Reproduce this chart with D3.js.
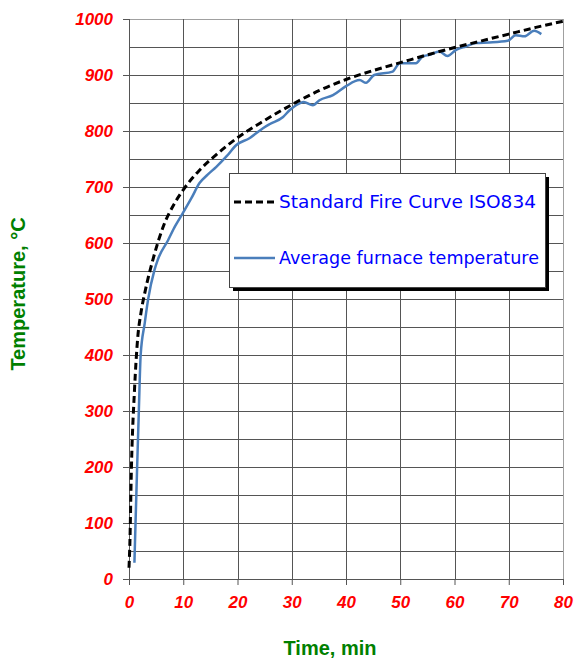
<!DOCTYPE html>
<html>
<head>
<meta charset="utf-8">
<script src="https://cdn.jsdelivr.net/npm/d3@7"></script>
<style>
  body { margin: 0; background: #fff; }
  svg { display: block; }
</style>
</head>
<body>
<div id="chart"></div>
<script>
// standard fire curve ISO834 (as drawn in the picture)
const isoTime = [0, 0.15, 0.45, 1, 1.6, 2.2, 3, 4.4, 6.3, 8.4, 10, 13, 16, 20, 25, 30, 35, 40, 45, 50, 55, 60, 65, 70, 75, 80];
const isoTemp = [20, 60, 200, 335, 430, 475, 515, 570, 629, 671, 695, 730, 757, 788, 819, 847, 872, 892, 908, 922, 936, 949, 961, 973, 985, 996];

// average furnace temperature
const furnTime = [1.0, 1.2, 1.5, 1.8, 2.15, 2.9, 3.5, 4.7, 5.3, 7.2, 8.5, 9.9, 11.5, 13, 14.5, 16.1, 18, 19.8, 22.2, 24.7, 25.9, 28.4, 29.6, 30.8, 32.2, 33.9, 35.1, 37.6, 40, 42.5, 43.7, 45.2, 48.6, 49.9, 52.9, 54.1, 55.4, 57.2, 58.7, 60.3, 62.1, 64, 66.4, 69.8, 71.3, 72.9, 74.7, 76];
const furnTemp = [29, 99, 200, 296, 400, 457, 498, 552, 570, 605, 630, 653, 680, 707, 722, 736, 755, 775, 787, 805, 812, 825, 837, 846, 852, 846, 855, 864, 880, 891, 886, 900, 906, 921, 921, 933, 936, 942, 934, 945, 951, 957, 958, 961, 971, 969, 979, 973];

const xTicks = [0, 10, 20, 30, 40, 50, 60, 70, 80];
const yTicks = [0, 100, 200, 300, 400, 500, 600, 700, 800, 900, 1000];
const yGrid = d3.range(0, 1001, 50);

const legendLabels = ['Standard Fire Curve ISO834', 'Average furnace temperature'];

const W = 575, H = 662;
const margin = { left: 129, top: 19, right: 12, bottom: 83 };
const width = W - margin.left - margin.right;
const height = H - margin.top - margin.bottom;

const svg = d3.select('#chart').append('svg')
    .attr('width', W)
    .attr('height', H);

const g = svg.append('g')
    .attr('transform', 'translate(' + margin.left + ',' + margin.top + ')');

const x = d3.scaleLinear().domain([0, 80]).range([0, width]);
const y = d3.scaleLinear().domain([0, 1000]).range([height, 0]);

// grid
g.append('g').selectAll('line.hg')
    .data(yGrid)
  .enter().append('line')
    .attr('class', 'hg')
    .attr('x1', 0).attr('x2', width)
    .attr('y1', d => Math.round(y(d)) + 0.5).attr('y2', d => Math.round(y(d)) + 0.5)
    .attr('stroke', d => d === 1000 ? '#a0a0a0' : '#555')
    .attr('stroke-width', 1);

g.append('g').selectAll('line.vg')
    .data(xTicks)
  .enter().append('line')
    .attr('class', 'vg')
    .attr('y1', 0).attr('y2', height)
    .attr('x1', d => Math.round(x(d)) + 0.5).attr('x2', d => Math.round(x(d)) + 0.5)
    .attr('stroke', d => d === 80 ? '#a0a0a0' : '#555')
    .attr('stroke-width', 1);

// axes
const xAxis = g.append('g')
    .attr('transform', 'translate(0,' + height + ')')
    .call(d3.axisBottom(x).tickValues(xTicks).tickSize(6).tickPadding(6).tickSizeOuter(0));

const yAxis = g.append('g')
    .call(d3.axisLeft(y).tickValues(yTicks).tickFormat(d3.format('d')).tickSize(6).tickPadding(10).tickSizeOuter(0));

[xAxis, yAxis].forEach(a => {
  a.select('.domain').attr('stroke', '#555');
  a.selectAll('.tick line').attr('stroke', '#555');
  a.selectAll('.tick text')
      .attr('fill', '#ff0000')
      .style('font-family', '"Liberation Sans", Arial, sans-serif')
      .style('font-size', '17px')
      .style('font-weight', 'bold')
      .style('font-style', 'italic');
});
xAxis.selectAll('.tick text').attr('dy', '1em');

// lines
const line = d3.line()
    .x(d => x(d[0]))
    .y(d => y(d[1]))
    .curve(d3.curveMonotoneX);

g.append('path')
    .datum(furnTime.map((t, i) => [t, furnTemp[i]]))
    .attr('fill', 'none')
    .attr('stroke', '#4a7ebb')
    .attr('stroke-width', 2.5)
    .attr('stroke-linejoin', 'round')
    .attr('d', line);

g.append('path')
    .datum(isoTime.map((t, i) => [t, isoTemp[i]]))
    .attr('fill', 'none')
    .attr('stroke', '#000')
    .attr('stroke-width', 3)
    .attr('stroke-dasharray', '7,4')
    .attr('d', line);

// legend
const lg = svg.append('g').attr('transform', 'translate(229,173)');
lg.append('rect')
    .attr('x', 4).attr('y', 4)
    .attr('width', 316).attr('height', 114)
    .attr('fill', '#000');
lg.append('rect')
    .attr('x', 0.5).attr('y', 0.5)
    .attr('width', 316).attr('height', 114)
    .attr('fill', '#fff')
    .attr('stroke', '#444');

const items = [
  { label: legendLabels[0], color: '#000', dash: '7,4', w: 3, yy: 29, tl: 257 },
  { label: legendLabels[1], color: '#4a7ebb', dash: null, w: 2.5, yy: 85, tl: 260 }
];
items.forEach(it => {
  lg.append('line')
      .attr('x1', 5).attr('x2', 46)
      .attr('y1', it.yy).attr('y2', it.yy)
      .attr('stroke', it.color)
      .attr('stroke-width', it.w)
      .attr('stroke-dasharray', it.dash);
  lg.append('text')
      .attr('x', 50).attr('y', it.yy)
      .attr('dy', '0.35em')
      .attr('fill', '#0000ff')
      .attr('textLength', it.tl)
      .attr('lengthAdjust', 'spacingAndGlyphs')
      .style('font-family', '"Comic Sans MS", "DejaVu Sans", sans-serif')
      .style('font-size', '18px')
      .text(it.label);
});

// axis titles
svg.append('text')
    .attr('x', 330).attr('y', 655)
    .attr('text-anchor', 'middle')
    .attr('fill', '#008000')
    .style('font-family', '"Liberation Sans", Arial, sans-serif')
    .style('font-size', '20px')
    .style('font-weight', 'bold')
    .text('Time, min');

svg.append('text')
    .attr('transform', 'translate(25,294) rotate(-90)')
    .attr('text-anchor', 'middle')
    .attr('fill', '#008000')
    .style('font-family', '"Liberation Sans", Arial, sans-serif')
    .style('font-size', '20px')
    .style('font-weight', 'bold')
    .text('Temperature, °C');
</script>
</body>
</html>
